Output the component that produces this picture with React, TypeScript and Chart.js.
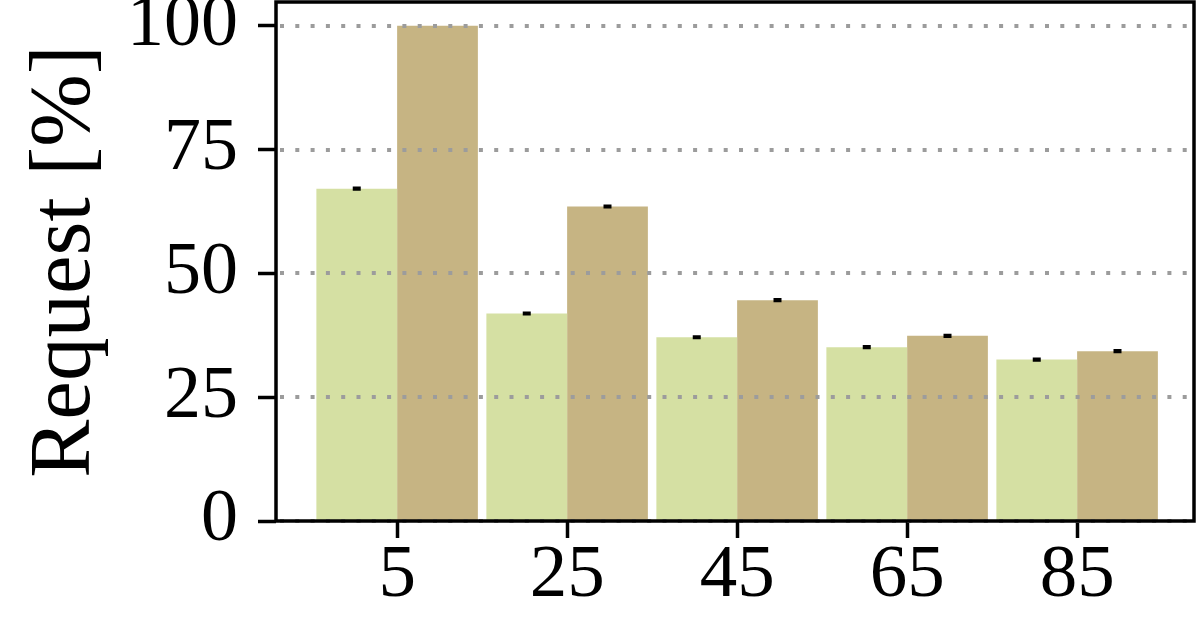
import React, { useEffect, useRef } from "react";
import { Chart, registerables } from "chart.js";

Chart.register(...registerables);

const categories = [5, 25, 45, 65, 85];
const seriesA = [67.1, 41.9, 37.1, 35.1, 32.6];
const seriesB = [100, 63.5, 44.6, 37.4, 34.3];
const errorsA = [0.12, 0.12, 0.12, 0.12, 0.12];
const errorsB = [0.0, 0.12, 0.12, 0.12, 0.12];
const yTicks = [0, 25, 50, 75, 100];
const xTicks = [5, 25, 45, 65, 85];
const yTitle = "Request [%]";

const colorA = "#d5e0a3";
const colorB = "#c6b483";
const FONT = "'Liberation Serif', 'Times New Roman', serif";

const overlayPlugin = {
  id: "overlay",
  afterDatasetsDraw(chart: any) {
    const { ctx, chartArea, scales } = chart;
    const ys = scales.y;
    ctx.save();
    ctx.strokeStyle = "#9c9c9c";
    ctx.lineWidth = 4;
    ctx.setLineDash([4, 11.3]);
    yTicks.forEach((v) => {
      const y = Math.round(ys.getPixelForValue(v));
      ctx.beginPath();
      ctx.moveTo(chartArea.left + 4, y);
      ctx.lineTo(chartArea.right, y);
      ctx.stroke();
    });
    ctx.setLineDash([]);
    const errs = [errorsA, errorsB];
    const vals = [seriesA, seriesB];
    ctx.strokeStyle = "#000";
    ctx.lineWidth = 3;
    chart.data.datasets.forEach((_: any, di: number) => {
      const meta = chart.getDatasetMeta(di);
      meta.data.forEach((el: any, j: number) => {
        const e = errs[di][j];
        if (!e) return;
        const v = vals[di][j];
        const yt = ys.getPixelForValue(v + e);
        const yb = ys.getPixelForValue(v - e);
        const x = el.x;
        ctx.beginPath();
        ctx.moveTo(x, yt);
        ctx.lineTo(x, yb);
        ctx.moveTo(x - 4, yt);
        ctx.lineTo(x + 4, yt);
        ctx.moveTo(x - 4, yb);
        ctx.lineTo(x + 4, yb);
        ctx.stroke();
      });
    });
    ctx.restore();
  },
  afterDraw(chart: any) {
    const { ctx, chartArea } = chart;
    ctx.save();
    ctx.strokeStyle = "#000";
    ctx.lineWidth = 3.5;
    ctx.strokeRect(chartArea.left, chartArea.top, chartArea.right - chartArea.left, chartArea.bottom - chartArea.top);
    ctx.restore();
  },
};

export default function App() {
  const ref = useRef<HTMLCanvasElement>(null);
  useEffect(() => {
    document.body.style.margin = "0";
    const canvas = ref.current!;
    const chart = new Chart(canvas, {
      type: "bar",
      data: {
        datasets: [
          {
            label: "A",
            data: categories.map((c, i) => ({ x: c, y: seriesA[i] })),
            backgroundColor: colorA,
            borderWidth: 0,
          },
          {
            label: "B",
            data: categories.map((c, i) => ({ x: c, y: seriesB[i] })),
            backgroundColor: colorB,
            borderWidth: 0,
          },
        ],
      },
      options: {
        responsive: false,
        animation: false,
        layout: { padding: { top: 2, right: 2, left: 0, bottom: 0 } },
        datasets: { bar: { categoryPercentage: 0.95, barPercentage: 1.0 } },
        plugins: { legend: { display: false }, tooltip: { enabled: false } },
        scales: {
          x: {
            type: "linear",
            offset: false,
            min: -9.25,
            max: 98.75,
            afterBuildTicks: (s: any) => {
              s.ticks = xTicks.map((v) => ({ value: v }));
            },
            afterFit: (s: any) => {
              s.height = 120;
              s.paddingLeft = 0;
              s.paddingRight = 0;
            },
            border: { display: false },
            grid: {
              offset: false,
              drawOnChartArea: false,
              drawTicks: true,
              tickLength: 17,
              tickColor: "#000",
              tickWidth: 3.5,
            },
            ticks: {
              color: "#000",
              font: { family: FONT, size: 75 },
              padding: -7,
              maxRotation: 0,
              autoSkip: false,
              callback: (v: any) => String(v),
            },
          },
          y: {
            type: "linear",
            min: 0,
            max: 104.8,
            afterBuildTicks: (s: any) => {
              s.ticks = yTicks.map((v) => ({ value: v }));
            },
            afterFit: (s: any) => {
              s.width = 276;
              s.paddingTop = 0;
              s.paddingBottom = 0;
            },
            border: { display: false },
            grid: {
              drawOnChartArea: false,
              drawTicks: true,
              tickLength: 18,
              tickColor: "#000",
              tickWidth: 3.5,
            },
            ticks: {
              color: "#000",
              font: { family: FONT, size: 74 },
              padding: 20,
              callback: (v: any) => String(v),
            },
            title: {
              display: true,
              text: yTitle,
              color: "#000",
              font: { family: FONT, size: 87 },
              padding: { top: 14, bottom: 0 },
            },
          },
        },
      },
      plugins: [overlayPlugin],
    });
    return () => chart.destroy();
  }, []);
  return <canvas ref={ref} width={1196} height={641} style={{ display: "block" }} />;
}
